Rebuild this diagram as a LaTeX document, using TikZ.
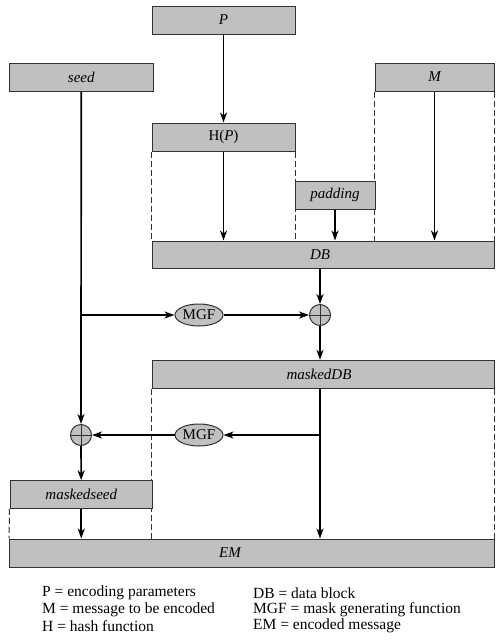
\documentclass[tikz,border=0pt]{standalone}
\usepackage{fontspec}
\setmainfont{Liberation Serif}
\usetikzlibrary{arrows.meta,shapes.geometric,backgrounds}
\definecolor{boxgray}{RGB}{192,192,192}
\definecolor{edgegray}{RGB}{50,50,50}
\tikzset{
  blk/.style={draw=edgegray,line width=1pt,fill=boxgray,inner sep=0pt,font=\fontsize{15}{17}\selectfont\itshape},
  mgfnode/.style={ellipse,draw=edgegray,line width=1pt,fill=boxgray,minimum width=48pt,minimum height=22pt,inner sep=0pt,font=\fontsize{15}{17}\selectfont},
  xornode/.style={circle,draw=edgegray,line width=1pt,fill=boxgray,minimum size=21pt,inner sep=0pt},
  arr/.style={line width=1.7pt,-{Stealth[length=10pt,width=7pt,inset=3pt]}},
  dsh/.style={draw=edgegray,line width=1pt,dash pattern=on 6pt off 3pt},
  legend/.style={anchor=west,inner sep=0pt,font=\fontsize{15.5}{17}\selectfont}
}
\begin{document}
\begin{tikzpicture}[x=1pt,y=-1pt]
\useasboundingbox (0,0) rectangle (500,641);
% boxes
\node[blk,minimum width=143pt,minimum height=28pt] (P) at (223.5,20) {P};
\node[blk,minimum width=143.5pt,minimum height=28pt] (seed) at (81.25,77) {seed};
\node[blk,minimum width=119pt,minimum height=28pt] (M) at (434.5,77) {M};
\node[blk,minimum width=143pt,minimum height=28pt,font=\fontsize{15}{17}\selectfont] (HP) at (223.5,137) {H(\textit{P})};
\node[blk,minimum width=80pt,minimum height=28pt] (pad) at (335,195) {padding};
\node[blk,minimum width=342pt,minimum height=27pt] (DB) at (323,254.5) {};
\node[font=\fontsize{15}{17}\selectfont\itshape,inner sep=0pt] (DBt) at (320,254.5) {DB};
\node[mgfnode] (mgf1) at (199,315) {MGF};
\node[xornode] (x1) at (320,315) {};
\node[blk,minimum width=342pt,minimum height=28pt] (mDB) at (323,374.3) {};
\node[font=\fontsize{15}{17}\selectfont\itshape,inner sep=0pt] (mDBt) at (319,374.3) {maskedDB};
\node[mgfnode] (mgf2) at (199,435) {MGF};
\node[xornode] (x2) at (81,435) {};
\node[blk,minimum width=142.5pt,minimum height=27.5pt] (mseed) at (81.25,494.5) {maskedseed};
\node[blk,minimum width=484.5pt,minimum height=28pt] (EM) at (251.75,553) {};
\node[font=\fontsize{15}{17}\selectfont\itshape,inner sep=0pt] (EMt) at (230,553) {EM};
% xor pluses
\draw[edgegray,line width=1pt] (x1.north) -- (x1.south) (x1.west) -- (x1.east);
\draw[edgegray,line width=1pt] (x2.north) -- (x2.south) (x2.west) -- (x2.east);
% dashed guides (behind the boxes)
\begin{scope}[on background layer]
\draw[dsh] (HP.south west) -- (DB.north west);
\draw[dsh] (HP.south east) -- (DB.north -| HP.south east);
\draw[dsh] (M.south west) -- (DB.north -| M.south west);
\draw[dsh] (M.south east) -- (DB.north east);
\draw[dsh] (mDB.south west) -- (EM.north -| mDB.south west);
\draw[dsh] (mDB.south east) -- (EM.north east);
\draw[dsh] (mseed.south west) -- (EM.north west);
\end{scope}
% arrows
\draw[arr] (P) -- (HP);
\draw[arr] (HP) -- (HP |- DB.north);
\draw[arr] (pad) -- (pad |- DB.north);
\draw[arr] (M) -- (M |- DB.north);
\draw[arr] (x1 |- DB.south) -- (x1.north);
\draw[arr] (x1) -- (x1 |- mDB.north);
\draw[arr] (seed) -- (x2.north);
\draw[arr] (seed.south |- mgf1.west) -- (mgf1.west);
\draw[arr] (mgf1) -- (x1.west);
\draw[arr] (x1 |- mDB.south) -- (x1 |- EM.north);
\draw[arr] (x1 |- mgf2.east) -- (mgf2.east);
\draw[arr] (mgf2) -- (x2.east);
\draw[arr] (x2) -- (mseed);
\draw[arr] (mseed) -- (mseed |- EM.north);
% legend
\node[legend] (l1) at (42,593) {P = encoding parameters};
\node[legend] (l2) at (42,609.5) {M = message to be encoded};
\node[legend] (l3) at (42,626) {H = hash function};
\node[legend] (l4) at (253,593) {DB = data block};
\node[legend] (l5) at (253,609.5) {MGF = mask generating function};
\node[legend] (l6) at (253,626) {EM = encoded message};
\end{tikzpicture}
\end{document}
